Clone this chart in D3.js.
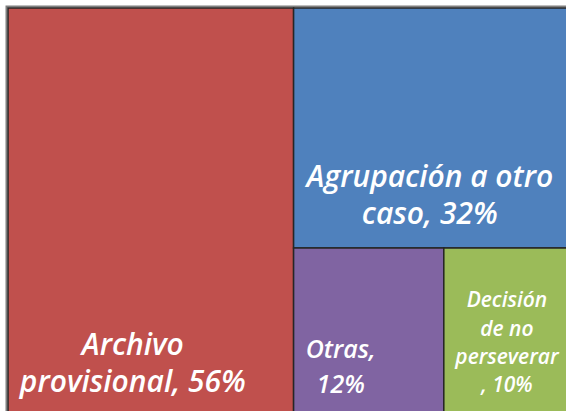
<!DOCTYPE html>
<html>
<head>
<meta charset="utf-8">
<script src="https://cdn.jsdelivr.net/npm/d3@7"></script>
<style>
  body { margin: 0; background: #fff; }
  svg { display: block; }
</style>
</head>
<body>
<svg id="chart" width="566" height="411"></svg>
<script>
const categories = ["Archivo provisional", "Agrupación a otro caso", "Otras", "Decisión de no perseverar"];
const values = [56, 32, 12, 10];
const labelLines = [
  ["Archivo", "provisional, 56%"],
  ["Agrupación a otro", "caso, 32%"],
  ["Otras,", "12%"],
  ["Decisión", "de no", "perseverar", ", 10%"]
];
const colors = ["#C0504D", "#4F81BD", "#8064A2", "#9BBB59"];

const size = { x: 566, y: 411 };
const box = { left: 8, top: 8, right: 569, bottom: 413 };

const svg = d3.select("#chart");

// outer gray frame (cropped on right and bottom)
svg.append("rect")
  .attr("x", 6.5).attr("y", 6.5)
  .attr("width", 600).attr("height", 600)
  .attr("fill", "none")
  .attr("stroke", "#7f7f7f")
  .attr("stroke-width", 2);

const root = d3.hierarchy({ children: categories.map((c, i) => ({ name: c, value: values[i], idx: i })) })
  .sum(d => d.value || 0);

d3.treemap()
  .tile(d3.treemapBinary)
  .size([box.right - box.left, box.bottom - box.top])
  (root);

const leaves = root.leaves();

const g = svg.append("g")
  .attr("transform", `translate(${box.left},${box.top})`);

g.append("g")
  .selectAll("rect")
  .data(leaves)
  .join("rect")
  .attr("x", d => d.x0)
  .attr("y", d => d.y0)
  .attr("width", d => d.x1 - d.x0)
  .attr("height", d => d.y1 - d.y0)
  .attr("fill", d => colors[d.data.idx])
  .attr("stroke", "#262626")
  .attr("stroke-width", 1.5);

// label placement per cell: dx from cell centre, baselines from cell bottom, font size
const labelStyle = [
  { dx: -18, base: [-56, -19], fs: 30 },
  { dx: 0, base: [-61, -24], fs: 30 },
  { dx: -28, base: [-53, -18], fs: 25 },
  { dx: 2, base: [-104, -75, -47, -19], fs: 21 }
];

const visW = size.x - box.left;
const visH = size.y - box.top;

const labels = g.append("g")
  .selectAll("text")
  .data(leaves)
  .join("text")
  .attr("text-anchor", "middle")
  .attr("fill", "#fff")
  .attr("font-family", "'Open Sans', Lato, sans-serif")
  .attr("font-style", "italic")
  .attr("font-weight", 600)
  .attr("font-size", d => labelStyle[d.data.idx].fs);

labels.selectAll("tspan")
  .data(d => labelLines[d.data.idx].map((t, j) => ({ t, j, d })))
  .join("tspan")
  .attr("x", o => (o.d.x0 + Math.min(o.d.x1, visW)) / 2 + labelStyle[o.d.data.idx].dx)
  .attr("y", o => Math.min(o.d.y1, visH) + labelStyle[o.d.data.idx].base[o.j])
  .text(o => o.t);
</script>
</body>
</html>
